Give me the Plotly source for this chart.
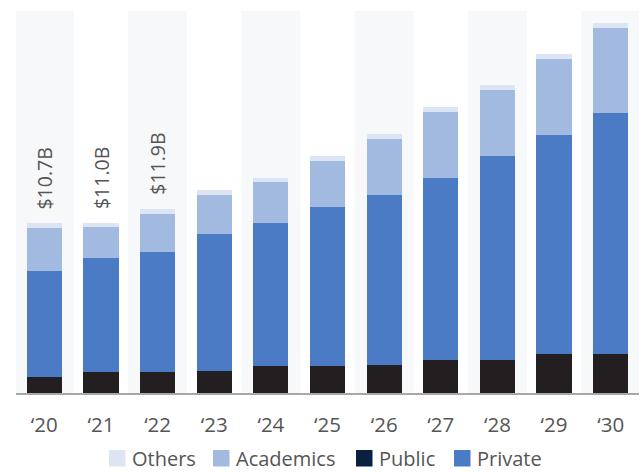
import plotly.graph_objects as go

# ---- data ($B) ----
years = ["\u201820", "\u201821", "\u201822", "\u201823", "\u201824", "\u201825",
         "\u201826", "\u201827", "\u201828", "\u201829", "\u201830"]
public = [1.01, 1.38, 1.38, 1.42, 1.77, 1.77, 1.79, 2.11, 2.11, 2.54, 2.52]
private = [6.92, 7.33, 7.78, 8.88, 9.25, 10.28, 11.04, 11.82, 13.22, 14.19, 15.59]
academics = [2.78, 2.01, 2.46, 2.52, 2.61, 2.98, 3.60, 4.25, 4.27, 4.90, 5.54]
others = [0.28, 0.28, 0.28, 0.30, 0.30, 0.32, 0.34, 0.34, 0.34, 0.32, 0.30]
total_labels = ["$10.7B", "$11.0B", "$11.9B"]

legend_names = ["Others", "Academics", "Public", "Private"]
legend_colors = ["#dde5f4", "#a2b9e0", "#0b1f3f", "#4a7bc4"]

C_PUBLIC = "#231f20"
C_PRIVATE = "#4a7bc4"
C_ACAD = "#a2b9e0"
C_OTHERS = "#dde5f4"
TEXT = "#555555"
FONT = "Open Sans"

W, H = 641, 472
ML, MR, MT, MB = 16, 2, 11, 79
PW, PH = W - ML - MR, H - MT - MB
YMAX = 24.73

def px(x):
    return (x - ML) / PW

def py(y):
    return (H - MB - y) / PH

x = list(range(len(years)))
fig = go.Figure()
for name, vals, col in [("Public", public, C_PUBLIC), ("Private", private, C_PRIVATE),
                        ("Academics", academics, C_ACAD), ("Others", others, C_OTHERS)]:
    fig.add_trace(go.Bar(x=x, y=vals, name=name, marker=dict(color=col, line=dict(width=0)),
                         showlegend=False, hoverinfo="y+name"))

# alternating background bands
for i in range(0, len(years), 2):
    fig.add_shape(type="rect", xref="x", yref="paper", x0=i - 0.52, x1=i + 0.52, y0=0, y1=1,
                  fillcolor="#f7f8fa", line=dict(width=0), layer="below")

totals = [p + q + a + o for p, q, a, o in zip(public, private, academics, others)]
for i, lab in enumerate(total_labels):
    fig.add_annotation(x=i, y=totals[i], text=lab, textangle=-90, showarrow=False,
                       yanchor="bottom", yshift=12, font=dict(family=FONT, size=19.5, color=TEXT))

# manual legend
sw_x = [109, 213, 356, 454]
for name, col, sx in zip(legend_names, legend_colors, sw_x):
    fig.add_shape(type="rect", xref="paper", yref="paper", x0=px(sx), x1=px(sx + 16.5),
                  y0=py(466.5), y1=py(450), fillcolor=col, line=dict(width=0))
    fig.add_annotation(xref="paper", yref="paper", x=px(sx + 22), y=py(458), text=name,
                       showarrow=False, xanchor="left", yanchor="middle", borderpad=0,
                       font=dict(family=FONT, size=20, color=TEXT))

fig.update_layout(
    width=W, height=H, margin=dict(l=ML, r=MR, t=MT, b=MB),
    barmode="stack", bargap=0.38,
    plot_bgcolor="white", paper_bgcolor="white",
    font=dict(family=FONT, color=TEXT),
    xaxis=dict(tickmode="array", tickvals=x, ticktext=years, range=[-0.5, 10.5],
               showgrid=False, zeroline=False, showline=True, linecolor="#a8a8a8", linewidth=2,
               ticks="", ticklabelstandoff=12,
               tickfont=dict(family=FONT, size=20.5, color=TEXT), fixedrange=True),
    yaxis=dict(range=[0, YMAX], visible=False, showgrid=False, zeroline=False, fixedrange=True),
)

fig.write_html("out.html", config={"displayModeBar": False},
               post_script="document.body.style.margin='0';document.body.style.overflow='hidden';")
